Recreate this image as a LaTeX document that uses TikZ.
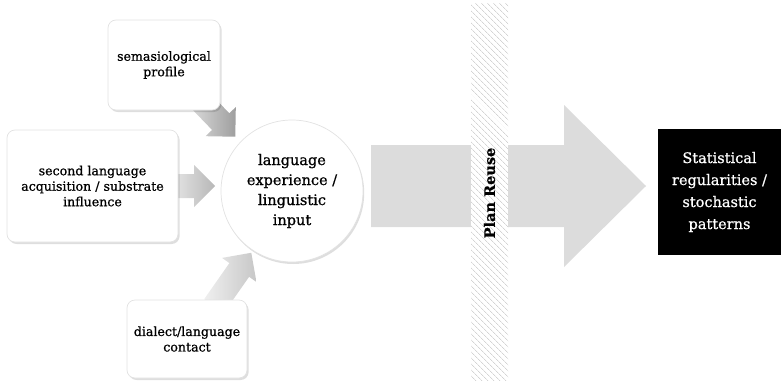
\documentclass[tikz,border=0pt]{standalone}
\usepackage{fontspec}
\setmainfont{DejaVu Serif}[FakeBold=0.8]
\usetikzlibrary{shadows,patterns.meta}
\definecolor{bandline}{HTML}{D4D4D4}
\definecolor{flowgray}{HTML}{DCDCDC}
\definecolor{cardedge}{HTML}{E2E2E2}
% block arrow: tail point, angle, length, tail colour, head colour
\newcommand\blockarrow[5]{%
  \begin{scope}[shift={(#1)}, rotate=#2]
    \shade[left color=#4, right color=#5]
      (0,-12) -- (#3-21,-12) -- (#3-21,-21) -- (#3,0) -- (#3-21,21)
      -- (#3-21,12) -- (0,12) -- cycle;
  \end{scope}}
\begin{document}
\begin{tikzpicture}[x=1pt,y=-1pt,
  card/.style={draw=cardedge, line width=0.7pt, fill=white,
    rounded corners=8pt, align=center, inner sep=2pt,
    font=\fontsize{12.6}{15.5}\selectfont,
    drop shadow={shadow xshift=1.6pt, shadow yshift=-2pt, fill=black, opacity=0.13}},
  hub/.style={circle, draw=cardedge, line width=0.7pt, fill=white,
    minimum size=142pt, align=center, inner sep=0pt,
    font=\fontsize{14.5}{20}\selectfont,
    drop shadow={shadow xshift=1.2pt, shadow yshift=-2pt, fill=black, opacity=0.13}},
  result/.style={fill=black, text=white, align=center, inner sep=0pt,
    font=\fontsize{14.5}{22}\selectfont},
  bandlabel/.style={rotate=90, font=\bfseries\fontsize{14.5}{17}\selectfont}]
\useasboundingbox (0,0) rectangle (781,380);

% small shaded arrows feeding the hub
\blockarrow{195,95}{-46}{58}{black!12}{black!38}
\blockarrow{172,186}{0}{43}{black!10}{black!28}
\blockarrow{214,306}{55}{65}{black!6}{black!22}

% source boxes
\node[card, minimum width=112pt, minimum height=90pt] (sem) at (164,65)
  {semasiological\\profile};
\node[card, minimum width=171pt, minimum height=112pt] (sla) at (92.5,186)
  {second language\\acquisition / substrate\\influence};
\node[card, minimum width=120pt, minimum height=78pt] (dia) at (187,339)
  {dialect/language\\contact};

% hub
\node[hub] (hubnode) at (292,191)
  {language\\experience /\\linguistic\\input};

% main flow arrow
\fill[flowgray] (371,145) -- (564,145) -- (564,105) -- (646,186)
  -- (564,267) -- (564,227) -- (371,227) -- cycle;

% hatched band
\fill[white] (471,3) rectangle (508,380);
\fill[pattern={Lines[angle=-45, distance=4pt, line width=0.8pt]}, pattern color=bandline]
  (471,3) rectangle (508,380);
\node[bandlabel] (plan) at (489.5,193) {Plan Reuse};

% outcome
\node[result, minimum width=123pt, minimum height=126pt] (out) at (719.5,192)
  {Statistical\\regularities /\\stochastic\\patterns};
\end{tikzpicture}
\end{document}
